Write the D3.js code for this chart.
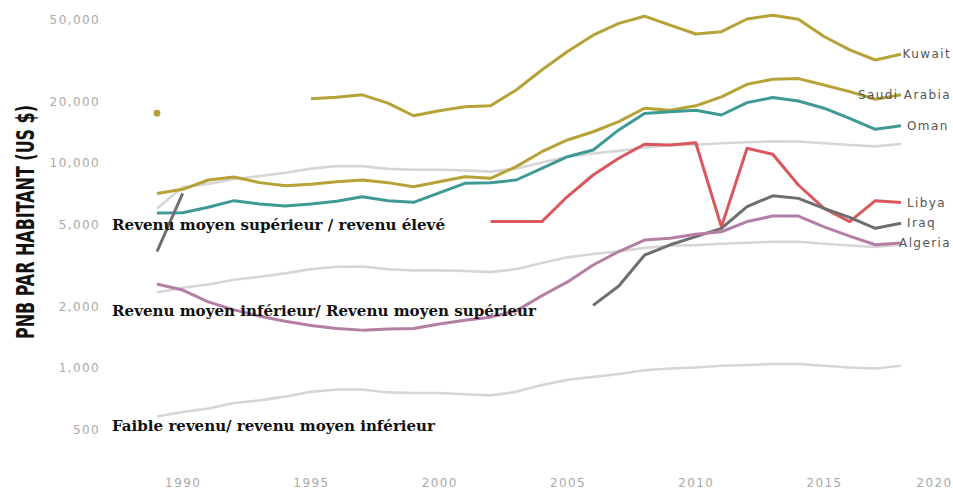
<!DOCTYPE html>
<html>
<head>
<meta charset="utf-8">
<script src="https://cdn.jsdelivr.net/npm/d3@7"></script>
<style>
  html, body { margin: 0; padding: 0; background: #fff; }
  svg { display: block; }
</style>
</head>
<body>
<svg id="chart" width="953" height="489"></svg>
<script>
// Years covered by the series (1989–2018)
const years = [1989, 1990, 1991, 1992, 1993, 1994, 1995, 1996, 1997, 1998, 1999,
  2000, 2001, 2002, 2003, 2004, 2005, 2006, 2007, 2008, 2009,
  2010, 2011, 2012, 2013, 2014, 2015, 2016, 2017, 2018];

// GNI per capita, current US$ (null = no data)
const kuwait = [17500, null, null, null, null, null, 20600, 20900, 21500, 19600, 17000,
  18000, 18800, 19000, 22700, 28400, 35000, 42000, 48000, 52000, 47000,
  42600, 43700, 50400, 52600, 50200, 41400, 35600, 31800, 33900];
const saudiArabia = [7100, 7440, 8260, 8550, 8020, 7750, 7870, 8100, 8260, 8020, 7660,
  8100, 8570, 8420, 9600, 11350, 12950, 14200, 15900, 18500, 18100,
  19000, 21000, 24200, 25600, 25800, 24000, 22300, 20450, 21500];
const oman = [5700, 5720, 6080, 6550, 6310, 6170, 6310, 6500, 6850, 6550, 6430,
  7150, 7960, 8020, 8260, 9420, 10730, 11570, 14500, 17450, 17800,
  18100, 17140, 19700, 20850, 20050, 18500, 16500, 14600, 15200];
const libya = [null, null, null, null, null, null, null, null, null, null, null,
  null, null, 5180, 5180, 5180, 6860, 8740, 10540, 12340, 12240,
  12560, 4880, 11790, 11030, 7810, 6010, 5180, 6550, 6410];
const iraq = [3700, 7100, null, null, null, null, null, null, null, null, null,
  null, null, null, null, null, null, 2020, 2510, 3550, 3990,
  4370, 4800, 6120, 6920, 6720, 6010, 5430, 4800, 5080];
const algeria = [2570, 2400, 2100, 1920, 1790, 1690, 1610, 1560, 1530, 1550, 1560,
  1640, 1710, 1770, 1900, 2250, 2630, 3180, 3700, 4210, 4290,
  4490, 4620, 5180, 5510, 5510, 4880, 4400, 3990, 4070];

// Income-group thresholds (US$)
const highThreshold = [6000, 7620, 7910, 8355, 8625, 8955, 9385, 9655, 9655, 9360, 9265,
  9265, 9205, 9075, 9385, 10065, 10725, 11115, 11455, 11905, 12195,
  12275, 12475, 12615, 12745, 12735, 12475, 12235, 12055, 12375];
const upperMiddleThreshold = [2335, 2465, 2555, 2695, 2785, 2895, 3035, 3115, 3125, 3030, 2995,
  2995, 2975, 2935, 3035, 3255, 3465, 3595, 3705, 3855, 3945,
  3975, 4035, 4085, 4125, 4125, 4035, 3955, 3895, 3995];
const lowerMiddleThreshold = [580, 610, 635, 675, 695, 725, 765, 785, 785, 760, 755,
  755, 745, 735, 765, 825, 875, 905, 935, 975, 995,
  1005, 1025, 1035, 1045, 1045, 1025, 1005, 995, 1025];

const yTicks = [500, 1000, 2000, 5000, 10000, 20000, 50000];
const xTicks = [1990, 1995, 2000, 2005, 2010, 2015, 2020];

const countryNames = ["Kuwait", "Saudi Arabia", "Oman", "Libya", "Iraq", "Algeria"];
const countryValues = [kuwait, saudiArabia, oman, libya, iraq, algeria];
const countryColors = ["#b6a236", "#b6a236", "#3f9994", "#d9575d", "#6e6e6e", "#b57fa5"];

const thresholdValues = [highThreshold, upperMiddleThreshold, lowerMiddleThreshold];
const bandLabels = [
  "Revenu moyen supérieur / revenu élevé",
  "Revenu moyen inférieur/ Revenu moyen supérieur",
  "Faible revenu/ revenu moyen inférieur"
];
const bandValues = [5000, 1890, 520];

const svg = d3.select("#chart");
const W = 953, H = 489;

const x = d3.scaleLinear().domain([1989, 2018]).range([157, 901]);
const y = d3.scaleLog().domain([500, 50000]).range([429.7, 19.7]);

const line = d3.line()
  .defined(d => d.v != null)
  .x(d => x(d.year))
  .y(d => y(d.v));

const toPoints = arr => years.map((yr, i) => ({ year: yr, v: arr[i] }));

const tickFont = sel => sel
  .attr("fill", "#a9a9a9")
  .style("font-family", "'DejaVu Sans', sans-serif")
  .style("font-size", "12px")
  .style("letter-spacing", "1.4px");

// Y axis
const yAxis = d3.axisLeft(y)
  .tickValues(yTicks)
  .tickFormat(d3.format(","))
  .tickSize(0)
  .tickPadding(0);
const gy = svg.append("g").attr("transform", "translate(100,0)").call(yAxis);
gy.select(".domain").remove();
gy.selectAll("text").call(tickFont);

// X axis
const xAxis = d3.axisBottom(x)
  .tickValues(xTicks)
  .tickFormat(d3.format("d"))
  .tickSize(0)
  .tickPadding(3);
const gx = svg.append("g").attr("transform", "translate(0,475)").call(xAxis);
gx.select(".domain").remove();
gx.selectAll("text").call(tickFont);
// keep the last year label inside the right edge
gx.selectAll(".tick").each(function (d) {
  const t = d3.select(this).select("text");
  const w = t.node().getComputedTextLength();
  const over = x(d) + w / 2 - (W - 1);
  if (over > 0) t.attr("x", -over);
});

// Y axis title
svg.append("text")
  .attr("transform", "translate(34,222) rotate(-90)")
  .attr("text-anchor", "middle")
  .attr("textLength", 234)
  .attr("lengthAdjust", "spacingAndGlyphs")
  .style("font-family", "'DejaVu Sans Condensed', 'Liberation Sans Narrow', 'DejaVu Sans', sans-serif")
  .style("font-stretch", "condensed")
  .style("font-weight", "bold")
  .style("font-size", "25px")
  .attr("fill", "#111")
  .text("PNB PAR HABITANT (US $)");

// Threshold lines
svg.append("g").selectAll("path")
  .data(thresholdValues)
  .join("path")
  .attr("d", arr => line(toPoints(arr)))
  .attr("fill", "none")
  .attr("stroke", "#d6d6d6")
  .attr("stroke-width", 2.6)
  .attr("stroke-linejoin", "round");

// Country lines
const gLines = svg.append("g");
countryValues.forEach((arr, i) => {
  const pts = toPoints(arr);
  gLines.append("path")
    .attr("d", line(pts))
    .attr("fill", "none")
    .attr("stroke", countryColors[i])
    .attr("stroke-width", 3)
    .attr("stroke-linejoin", "round");
  // isolated points (no neighbour on either side) drawn as dots
  pts.forEach((p, j) => {
    if (p.v == null) return;
    const prev = j > 0 ? pts[j - 1].v : null;
    const next = j < pts.length - 1 ? pts[j + 1].v : null;
    if (prev == null && next == null) {
      gLines.append("circle")
        .attr("cx", x(p.year)).attr("cy", y(p.v)).attr("r", 3.4)
        .attr("fill", countryColors[i]);
    }
  });
});

// Income band labels
svg.append("g").selectAll("text")
  .data(bandLabels)
  .join("text")
  .attr("x", 112)
  .attr("y", (d, i) => y(bandValues[i]))
  .attr("dy", "0.35em")
  .attr("textLength", (d, i) => [333, 424, 323][i])
  .attr("lengthAdjust", "spacingAndGlyphs")
  .style("font-family", "'DejaVu Serif', serif")
  .style("font-weight", "bold")
  .style("font-size", "14px")
  .attr("fill", "#111")
  .text(d => d);

// Country labels at line ends, kept inside the right edge
const gLab = svg.append("g");
countryNames.forEach((name, i) => {
  const arr = countryValues[i];
  const last = arr[arr.length - 1];
  const t = gLab.append("text")
    .attr("y", y(last))
    .attr("dy", "0.35em")
    .style("font-family", "'DejaVu Sans', sans-serif")
    .style("font-size", "12px")
    .style("letter-spacing", "1.4px")
    .attr("fill", "#555")
    .text(name);
  const w = t.node().getComputedTextLength();
  t.attr("x", Math.min(x(years[years.length - 1]) + 6, W - 2 - w));
});
</script>
</body>
</html>
